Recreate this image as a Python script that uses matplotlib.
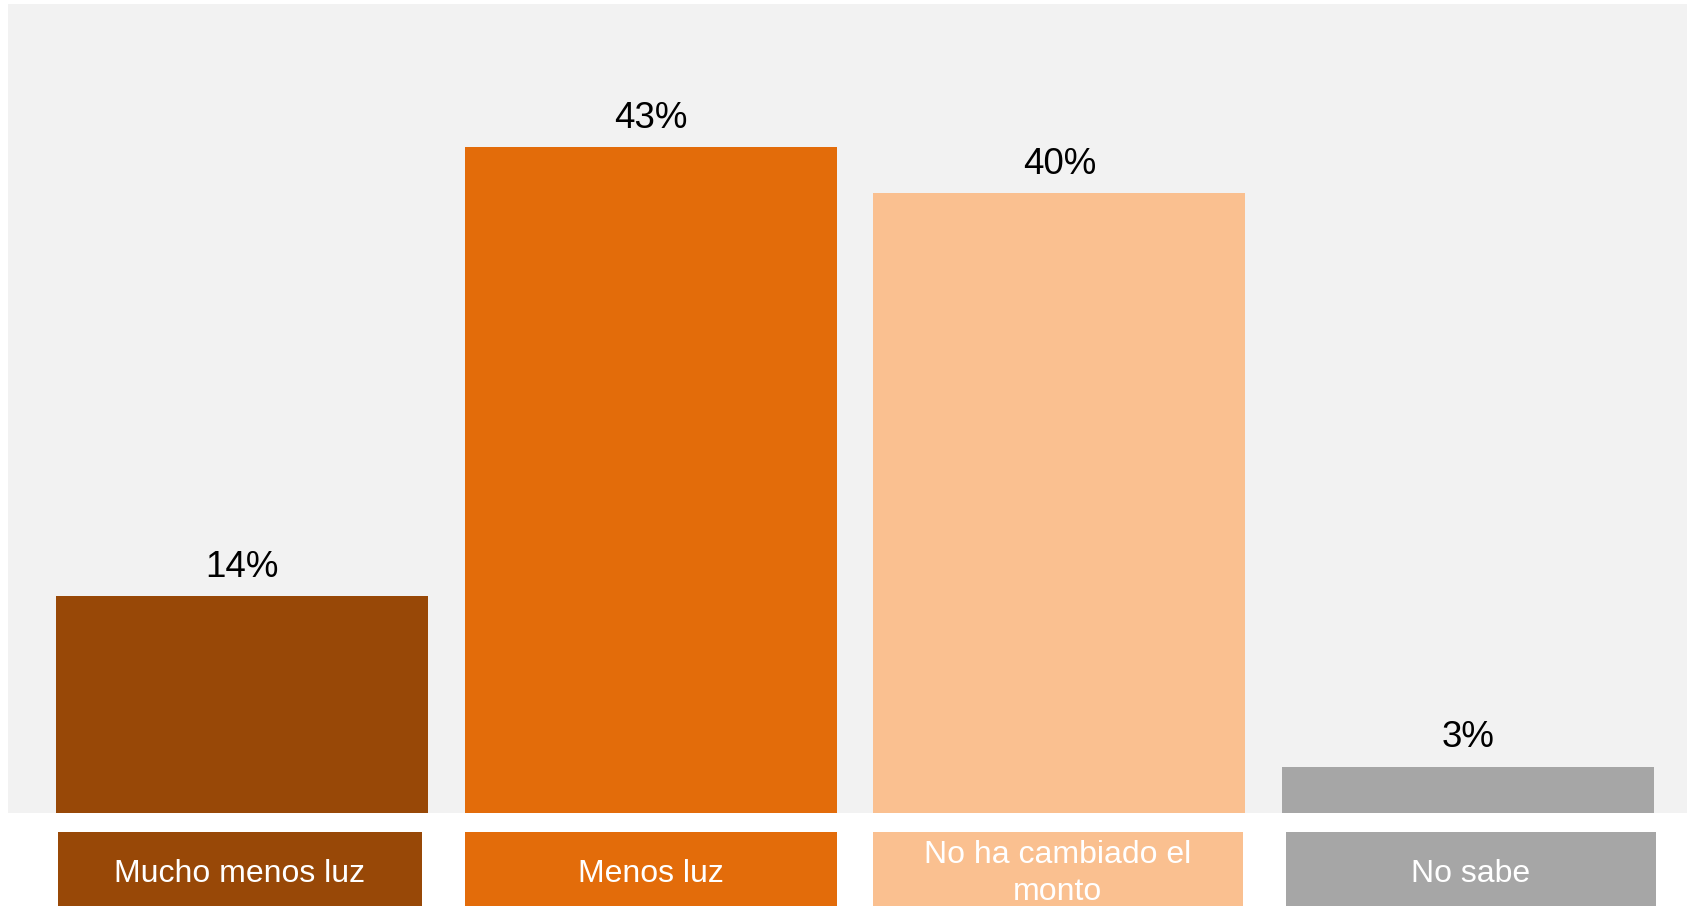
import matplotlib
matplotlib.use("Agg")
import matplotlib.pyplot as plt
from matplotlib.patches import Rectangle

categories = ["Mucho menos luz", "Menos luz", "No ha cambiado el\nmonto", "No sabe"]
values = [14, 43, 40, 3]
value_labels = ["14%", "43%", "40%", "3%"]
colors = ["#984807", "#E36C0A", "#FAC090", "#A6A6A6"]

plt.rcParams['font.family'] = ['Liberation Sans', 'DejaVu Sans']

W, H, DPI = 1689, 906, 100
fig = plt.figure(figsize=(W / DPI, H / DPI), dpi=DPI)
fig.patch.set_facecolor("white")

# axes spans the grey panel: x 8..1687, y 4..813 (pixels from top)
ax = fig.add_axes([8 / W, 1 - 813 / H, (1687 - 8) / W, (813 - 4) / H])
ax.set_facecolor("#F2F2F2")
for s in ax.spines.values():
    s.set_visible(False)
ax.set_xticks([])
ax.set_yticks([])

x = list(range(len(values)))
ax.bar(x, values, width=0.91, color=colors, zorder=2)
ax.set_xlim(-0.5725, 3.5356)
ax.set_ylim(0, 52.2)

for xi, v, lab in zip(x, values, value_labels):
    ax.annotate(lab, (xi, v), xytext=(0, 13.7), textcoords="offset points",
                ha="center", va="baseline", fontsize=26.5, color="black")

# category label boxes below the panel
box_shift = [-0.005, 0.0, -0.004, 0.007]
box_width = [0.89, 0.91, 0.905, 0.905]
box_top = -1.22
box_bottom = -8.0
for xi, dx, bw, cat, c in zip(x, box_shift, box_width, categories, colors):
    cx = xi + dx
    r = Rectangle((cx - bw / 2, box_bottom), bw, box_top - box_bottom,
                  facecolor=c, edgecolor="none", clip_on=False, zorder=3)
    ax.add_patch(r)
    ax.text(cx, -3.92, cat, ha="center", va="center", fontsize=23,
            color="white", clip_on=False, zorder=4, linespacing=1.32)

fig.savefig("out.png", dpi=DPI, facecolor=fig.get_facecolor())
